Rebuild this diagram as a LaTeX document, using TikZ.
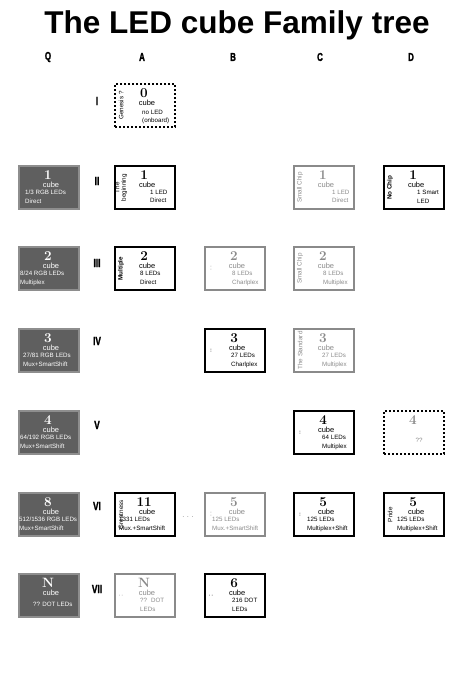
\documentclass[tikz,border=0pt]{standalone}
\usepackage{fontspec}
\newfontfamily\arialfont{Liberation Sans}
\newfontfamily\headfont[UprightFont={* Bold}, FakeStretch=0.7, FakeBold=1.5]{Liberation Sans}
\usepackage{xcolor}
\definecolor{cardFill}{HTML}{5F5F5F}
\definecolor{cardEdge}{HTML}{8E8E8E}
\definecolor{fadeGray}{HTML}{8A8A8A}
\usepackage{tikz}
\usetikzlibrary{positioning}
\tikzset{
    % Base box of one cube card
    card base/.style={
        rectangle,
        anchor=north west,
        minimum width=60pt,
        minimum height=43pt,
        inner sep=0pt,
    },
    % Q column - filled dark gray
    qcard/.style={card base, fill=cardFill, draw=cardEdge, line width=2pt},
    qcard text/.style={text=white},
    % Built cubes - black frame
    inkcard/.style={card base, draw=black, line width=2.4pt},
    inkcard text/.style={text=black},
    % Side branches - faded gray
    fadecard/.style={card base, draw=fadeGray, line width=2pt},
    fadecard text/.style={text=fadeGray},
    % Unknown cubes - dotted frame
    dotcard/.style={card base, draw=black, line width=2pt, dash pattern=on 2pt off 2pt},
    dotcard text/.style={text=black},
    % Texts inside a card
    card num/.style={font=\bfseries\fontsize{13.5}{14}\selectfont, inner sep=0pt, anchor=base},
    card cube/.style={font=\arialfont\fontsize{7.5}{8}\selectfont, inner sep=0pt, anchor=base},
    card lines/.style={font=\arialfont\fontsize{6.2}{8.5}\selectfont, align=left, inner sep=0pt, anchor=north west},
    card side/.style={font=\arialfont\fontsize{6.3}{6.5}\selectfont, align=center, inner sep=0pt, rotate=90},
    % Title and row / column heads
    title text/.style={font=\arialfont\bfseries\fontsize{31.5}{32}\selectfont, inner sep=0pt, anchor=base},
    head text/.style={font=\headfont\fontsize{11.5}{12}\selectfont, inner sep=0pt},
    row text/.style={font=\headfont\fontsize{12}{12}\selectfont, inner sep=0pt},
}
% one card: name, style, x, y, side text, number, lines, shift of the lines
\newcommand{\cubecard}[8]{%
    \begin{scope}[#2 text]
        \node[#2] (#1) at (#3,#4) {};
        \node[card num] (#1-num) at ([xshift=-1pt, yshift=-14pt]#1.north) {#6};
        \node[card cube] (#1-cube) at ([xshift=2pt, yshift=-22pt]#1.north) {cube};
        \node[card lines] (#1-lines) at ([yshift=-25pt, #8]#1.north west) {#7};
        \node[card side] (#1-side) at ([xshift=7pt]#1.west) {#5};
    \end{scope}}

\begin{document}
\begin{tikzpicture}[x=1pt, y=-1pt]
    \useasboundingbox (0,0) rectangle (474,673);

    \node[title text] (title) at (237,33) {The LED cube Family tree};

    \node[head text] (colQ) at (48,57) {Q};
    \node[head text] (colA) at (142,57) {A};
    \node[head text] (colB) at (233,57) {B};
    \node[head text] (colC) at (320,57) {C};
    \node[head text] (colD) at (411,57) {D};

    \node[row text] (rowI) at (97,101) {I};
    \node[row text] (rowII) at (97,181) {II};
    \node[row text] (rowIII) at (97,263) {III};
    \node[row text] (rowIV) at (97,341) {IV};
    \node[row text] (rowV) at (97,425) {V};
    \node[row text] (rowVI) at (97,506) {VI};
    \node[row text] (rowVII) at (97,589) {VII};

    % row I
    \cubecard{aI}{dotcard}{114}{83}{Genesis ?}{0}{no LED\\(onboard)}{xshift=28pt, yshift=-2pt}
    % row II
    \cubecard{qII}{qcard}{18}{165}{}{1}{1/3 RGB LEDs\\Direct}{xshift=7pt}
    \cubecard{aII}{inkcard}{114}{165}{The\\beginning}{1}{1 LED\\Direct}{xshift=36pt}
    \cubecard{cII}{fadecard}{293}{165}{Small Chip}{1}{1 LED\\Direct}{xshift=39pt}
    \cubecard{dII}{inkcard}{383}{165}{\bfseries No Chip}{1}{1 Smart\\LED}{xshift=34pt}
    % row III
    \cubecard{qIII}{qcard}{18}{246}{}{2}{8/24 RGB LEDs\\Multiplex}{xshift=2pt}
    \cubecard{aIII}{inkcard}{114}{246}{\bfseries Multiple}{2}{8 LEDs\\Direct}{xshift=26pt}
    \cubecard{bIII}{fadecard}{204}{246}{.\,.}{2}{8 LEDs\\Charlplex}{xshift=28pt}
    \cubecard{cIII}{fadecard}{293}{246}{Small Chip}{2}{8 LEDs\\Multiplex}{xshift=30pt}
    % row IV
    \cubecard{qIV}{qcard}{18}{328}{}{3}{27/81 RGB LEDs\\Mux+SmartShift}{xshift=5pt}
    \cubecard{bIV}{inkcard}{204}{328}{.\,.}{3}{27 LEDs\\Charlplex}{xshift=27pt}
    \cubecard{cIV}{fadecard}{293}{328}{The Standard}{3}{27 LEDs\\Multiplex}{xshift=29pt}
    % row V
    \cubecard{qV}{qcard}{18}{410}{}{4}{64/192 RGB LEDs\\Mux+SmartShift}{xshift=2pt}
    \cubecard{cV}{inkcard}{293}{410}{.\,.}{4}{64 LEDs\\Multiplex}{xshift=29pt}
    \node[dotcard] (dV) at (383,410) {};
    \node[card num, text=fadeGray] (dV-num) at ([xshift=-1pt, yshift=-14pt]dV.north) {4};
    \node[card lines, anchor=base, text=fadeGray] (dV-lines) at ([xshift=5pt, yshift=-32pt]dV.north) {??};
    % row VI
    \cubecard{qVI}{qcard}{18}{492}{}{8}{512/1536 RGB LEDs\\Mux+SmartShift}{xshift=1pt}
    \cubecard{aVI}{inkcard}{114}{492}{Greatness}{11}{1331 LEDs\\Mux.+SmartShift}{xshift=5pt}
    \node[card cube, anchor=center, text=fadeGray] (ellipsis) at (188,517) {.\,\,.\,\,.};
    \cubecard{bVI}{fadecard}{204}{492}{.\,.}{5}{125 LEDs\\Mux.+SmartShift}{xshift=8pt}
    \cubecard{cVI}{inkcard}{293}{492}{.\,.}{5}{125 LEDs\\Multiplex+Shift}{xshift=14pt}
    \cubecard{dVI}{inkcard}{383}{492}{Pride}{5}{125 LEDs\\Multiplex+Shift}{xshift=14pt}
    % row VII
    \cubecard{qVII}{qcard}{18}{573}{}{N}{?? DOT LEDs}{xshift=15pt, yshift=-4pt}
    \cubecard{aVII}{fadecard}{114}{573}{:}{N}{??~ DOT\\LEDs}{xshift=26pt}
    \cubecard{bVII}{inkcard}{204}{573}{:}{6}{216 DOT\\LEDs}{xshift=28pt}
\end{tikzpicture}
\end{document}
